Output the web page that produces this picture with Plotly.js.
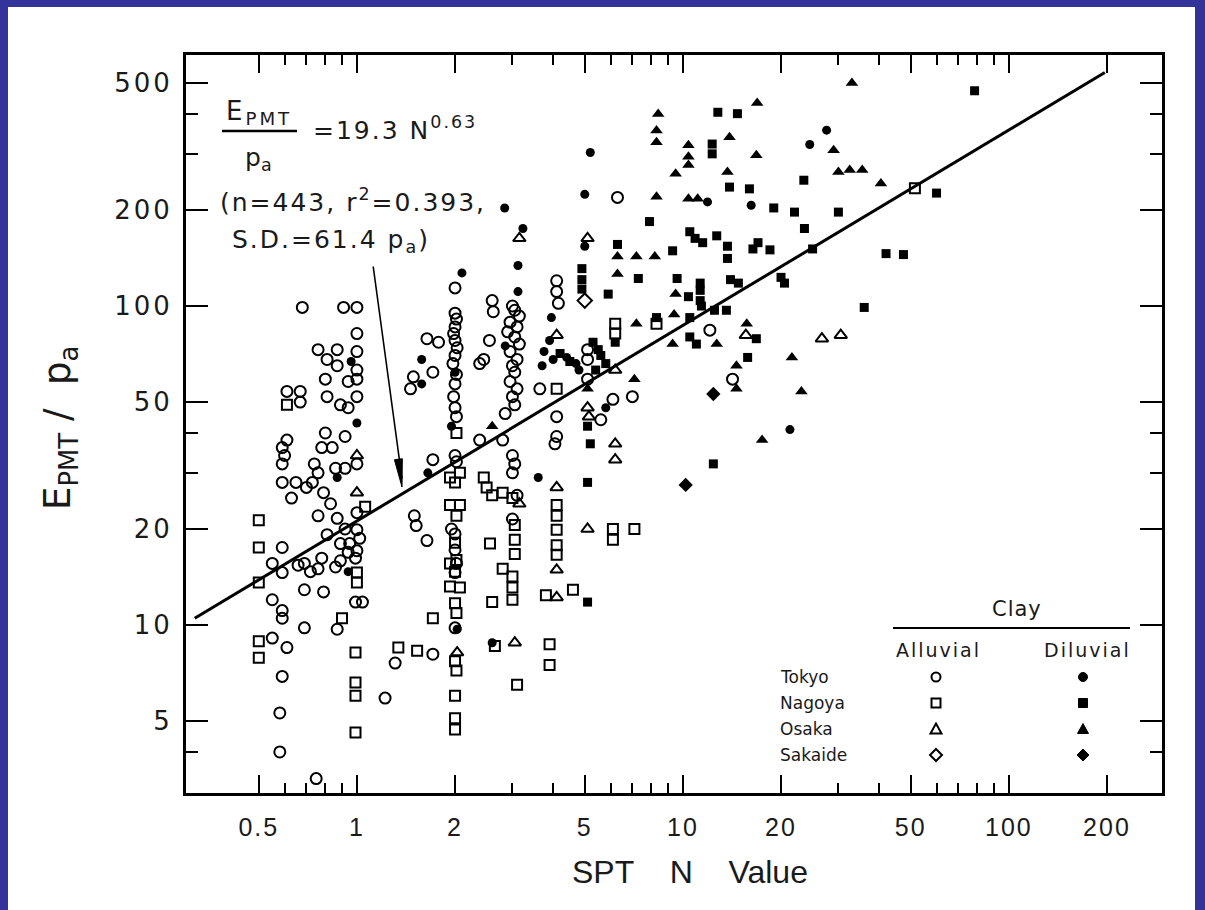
<!DOCTYPE html>
<html><head><meta charset="utf-8">
<script src="https://cdn.plot.ly/plotly-3.0.1.min.js"></script>
<style>
html,body{margin:0;padding:0;background:#fff;}
#chart{position:absolute;left:0;top:0;width:1205px;height:910px;}
#frame{position:absolute;left:0;top:0;width:1205px;height:910px;box-sizing:border-box;border-style:solid;border-color:#343399;border-width:7px 10px 0px 8px;pointer-events:none;}
/* the lettering of the original figure is wide: open the spacing a little */
.annotation[data-index="0"] .annotation-text{letter-spacing:3px;}
.annotation[data-index="2"] .annotation-text,
.annotation[data-index="3"] .annotation-text,
.annotation[data-index="4"] .annotation-text,
.annotation[data-index="9"] .annotation-text,
.annotation[data-index="10"] .annotation-text{letter-spacing:2px;}
.annotation[data-index="8"] .annotation-text{letter-spacing:1px;}
.ytick text{letter-spacing:3px;}
.xtick text{letter-spacing:2px;}
</style></head><body>
<div id="chart"></div><div id="frame"></div>
<script>
// ---- data (SPT N value, E_PMT/pa) ----
// Tokyo, alluvial clay (open circles)
const taN = [0.68,0.91,1.0,1.0,0.76,0.87,1.0,0.81,0.87,1.0,0.80,0.94,1.0,0.61,0.67,0.67,0.81,0.89,0.94,1.0,
  0.80,0.92,0.61,0.59,0.60,0.59,0.78,0.84,1.0,0.74,0.86,0.92,0.59,0.65,0.70,0.76,0.73,0.63,0.79,0.83,
  0.76,0.87,1.0,0.81,0.92,1.0,0.89,0.95,1.02,0.59,0.94,1.0,0.89,0.99,0.55,0.59,0.66,0.69,0.72,0.76,
  0.78,0.86,0.55,0.59,0.59,0.69,0.79,0.99,1.04,0.69,0.87,0.55,0.61,0.59,1.22,0.58,0.58,0.75,
  1.64,1.78,1.49,1.46,1.71,2.38,1.71,2.38,1.50,1.52,1.64,1.31,1.71,
  2.0,2.0,2.02,2.0,1.98,2.0,2.03,2.0,1.97,2.02,2.0,1.98,2.0,2.02,2.0,2.02,1.95,2.0,2.0,2.02,2.0,2.0,
  2.6,2.62,2.55,2.45,
  3.0,3.05,3.15,2.95,3.1,2.9,3.05,3.15,2.95,3.1,3.0,3.05,2.95,3.1,3.0,3.05,2.85,2.8,3.0,3.05,3.0,3.1,3.0,
  4.1,4.1,4.15,3.64,4.1,4.1,4.05,
  5.1,5.1,5.1,5.6,6.1,6.3,7.0,12.1,14.2];
const taE = [99,99,99,82,73,73,72,68,65,63,59,58,59,54,54,50,52,49,48,52,
  40,39,38,36,34,32,36,36,32,32,31,31,28,28,27,30,28,25,26,24,
  22,21.6,22.5,19.2,20,19.9,18,18,18.7,17.5,16.9,17.1,15.9,16.2,15.6,14.6,15.4,15.6,14.7,15,
  16.2,15.2,12,11.1,10.5,12.9,12.7,11.8,11.8,9.8,9.7,9.1,8.5,6.9,5.9,5.3,4.0,3.3,
  79,77,60,55,62,66,33,38,22,20.5,18.4,7.6,8.1,
  114,95,91,86,82,78,74,70,66,61,57,52,48,45,34,32.5,20,19.3,17.2,15.6,14.6,9.8,
  104,96,78,68,
  100,97,93,89,86,83,80,76,72,68,65,62,58,55,52,49,46,38,34,32,30,25.5,21.5,
  120,111,102,55,45,39,37,
  73,68,59,44,51,219,52,84,59];
// Tokyo, diluvial clay (filled circles)
const tdN = [0.96,1.0,0.87,0.94,1.58,1.58,1.65,2.0,1.95,2.03,2.1,2.84,3.23,3.12,3.12,2.85,3.6,2.6,3.95,3.9,3.7,
  5.2,5.0,5.0,5.8,11.9,16.2,27.6,24.5,21.3,4.4,4.7,4.8,3.75,4.0];
const tdE = [67,43,29,14.7,68,57,30,62,42,9.7,127,203,175,134,111,75,29,8.8,92,78,65,
  303,224,154,48,212,207,356,321,41,69,66,63,72,68];
// Nagoya, alluvial clay (open squares)
const naN = [0.61,1.06,0.5,0.5,0.5,0.5,0.5,1.0,1.0,0.9,0.99,0.99,0.99,0.99,1.71,1.34,1.53,
  1.93,2.07,2.0,2.02,1.93,2.07,2.02,2.0,2.02,1.93,2.0,1.93,2.07,2.0,2.02,2.0,2.02,2.0,2.0,2.0,
  2.56,2.6,2.65,2.45,2.5,2.6,2.8,3.05,3.05,3.05,2.8,3.0,3.0,3.0,3.1,3.0,
  4.1,4.1,4.1,4.1,4.1,4.1,3.9,3.9,3.8,4.6,
  6.2,6.2,6.1,6.1,7.1,8.3,51.5];
const naE = [49,23.5,21.3,17.5,13.6,8.9,7.9,14.6,13.6,10.5,8.2,6.6,6.0,4.6,10.5,8.5,8.3,
  29,30,28,40,23.8,23.8,22,18.1,16,15.6,14.7,13.2,13.1,11.7,10.9,7.7,7.2,6.0,5.1,4.7,
  18,11.8,8.6,29,27,25.5,26,20.6,18.5,16.7,15,14.2,13.1,12.0,6.5,25,
  55,23.8,22,19.9,17.8,16.6,8.7,7.5,12.4,12.9,
  88,82,20,18.5,20,88,234];
// Nagoya, diluvial clay (filled squares)
const ndN = [5.2,5.1,5.1,5.1,5.3,5.5,6.2,8.3,10.5,11.4,12.5,13.6,10.5,11.0,16.8,15.8,12.4,12.8,14.7,78.5,
  12.3,12.3,13.9,16.0,7.9,10.5,10.9,11.5,12.7,13.7,13.7,16.4,6.3,9.3,4.9,4.9,4.9,7.3,5.9,9.6,
  10.4,11.3,11.3,11.3,14.0,14.8,20.0,20.5,17.0,18.5,25.0,23.5,19.0,22.0,30.0,42.0,47.5,36.0,60.0,23.6,
  5.4,4.2,4.5,5.6,5.8];
const ndE = [37,28,11.8,42,77,73,77,92,92,100,97,97,80,76,79,69,32,405,401,473,
  322,300,236,233,184,171,163,158,166,154,141,151,156,149,131,121,113,122,109,122,
  107,118,112,104,121,118,123,118,158,150,151,248,203,197,197,146,145,99,226,175,
  63,71,67,70,66];
// Osaka, alluvial clay (open triangles)
const oaN = [1.0,1.0,2.03,3.05,3.15,4.1,4.1,4.1,5.1,5.1,5.15,5.1,6.2,6.2,6.2,4.1,15.6,26.7,30.5,3.15];
const oaE = [34,26,8.2,8.8,163,27,12.2,14.9,163,48,45,20,63,37,33,81,81,79,81,24];
// Osaka, diluvial clay (filled triangles)
const odN = [33,8.4,8.3,8.3,16.9,13.9,10.4,10.4,10.4,9.5,13.7,16.8,8.3,10.4,11.1,6.3,7.2,8.2,6.3,9.5,
  7.2,9.4,9.3,12.7,15.7,14.6,14.6,21.6,23.1,17.5,7.1,5.1,2.6,29,30,32.5,35.5,40.5];
const odE = [500,400,355,326,433,338,319,294,277,260,263,297,220,217,217,143,143,143,126,109,
  88,94,76,76,88,65,55,69,54,38,59,55,42,308,263,267,267,242];
// Sakaide, alluvial clay (open diamonds)
const saN = [5.0];
const saE = [104];
// Sakaide, diluvial clay (filled diamonds)
const sdN = [12.4,10.2];
const sdE = [53,27.5];
// fitted line E/pa = 19.3 N^0.63 (end points)
const fitN = [0.318,197];
const fitE = [10.5,540];
// axis ticks
const xTicks = [0.5,1,2,5,10,20,50,100,200];
const xTickText = ['0.5','1','2','5','10','20','50','100','200'];
const xMinor = [0.6,0.7,0.8,0.9,3,4,6,7,8,9,30,40,60,70,80,90];
const yTicks = [5,10,20,50,100,200,500];
const yTickText = ['5','10','20','50','100','200','500'];
const yMinor = [4,30,40,300,400];
const cities = ['Tokyo','Nagoya','Osaka','Sakaide'];
const legendSymbols = ['circle','square','triangle','diamond'];

// ---- layout geometry (pixels) ----
const W = 1205, H = 910, L = 186, R = 1162, T = 55, B = 793;
const px = x => (x - L) / (R - L);
const py = y => (B - y) / (B - T);

function pts(x, y, sym, size, lw) {
  return {x: x, y: y, type: 'scatter', mode: 'markers', hoverinfo: 'skip',
    marker: {symbol: sym, size: size, color: '#000', line: {color: '#000', width: lw}}};
}
const traces = [
  {x: fitN, y: fitE, type: 'scatter', mode: 'lines', line: {color: '#000', width: 3}, hoverinfo: 'skip'},
  pts(taN, taE, 'circle-open', 11, 2),
  pts(tdN, tdE, 'circle', 9, 0),
  pts(naN, naE, 'square-open', 10, 2),
  pts(ndN, ndE, 'square', 9, 0),
  pts(oaN, oaE, 'triangle-up-open', 11, 2),
  pts(odN, odE, 'triangle-up', 11, 0),
  pts(saN, saE, 'diamond-open', 11, 2),
  pts(sdN, sdE, 'diamond', 11, 0)
];

const txt = (x, y, text, size, anchor, extra) => Object.assign({
  xref: 'paper', yref: 'paper', x: px(x), y: py(y), text: text, showarrow: false,
  xanchor: anchor || 'center', yanchor: 'middle',
  font: {family: 'DejaVu Sans, sans-serif', size: size, color: '#1a1a1a'}}, extra || {});

// pointer arrow: tail and tip (pixels)
const tail = [373, 265], tip = [402, 487];

const ann = [
  txt(259, 113, 'E<sub>PMT</sub>', 26),
  txt(258, 159, 'p<sub>a</sub>', 25),
  txt(322, 128, '=19.3 N<sup>0.63</sup>', 25, 'left'),
  txt(235, 201, '(n=443, r<sup>2</sup>=0.393,', 25, 'left'),
  txt(243, 241, 'S.D.=61.4 p<sub>a</sub>)', 25, 'left'),
  {xref: 'paper', yref: 'paper', x: px(tip[0]), y: py(tip[1] - 8), text: '', showarrow: true,
   ax: tail[0] - tip[0], ay: tail[1] - tip[1] + 8, arrowhead: 0, arrowwidth: 1.6, arrowcolor: '#000', standoff: 0},
  txt(690, 872, 'SPT&nbsp;&nbsp;&nbsp;&nbsp;N&nbsp;&nbsp;&nbsp;&nbsp;Value', 32, 'center',
      {font: {family: 'Liberation Sans, sans-serif', size: 32, color: '#1a1a1a'}}),
  txt(60, 428, 'E<sub>PMT</sub>&nbsp;/&nbsp;&nbsp;p<sub>a</sub>', 37, 'center', {textangle: -90}),
  txt(1017, 609, 'Clay', 21),
  txt(938, 650, 'Alluvial', 19),
  txt(1087, 650, 'Diluvial', 19)
];
const rowY = [677, 703, 729, 755];
cities.forEach((c, i) => ann.push(txt(778, rowY[i], c, 17, 'left')));

// legend key symbols drawn as small shapes (paper coordinates)
function keyShape(kind, cx, cy, filled) {
  const fill = filled ? '#000' : 'rgba(0,0,0,0)';
  const line = {color: '#000', width: filled ? 1 : 2};
  const base = {xref: 'paper', yref: 'paper', fillcolor: fill, line: line};
  if (kind === 'circle') {
    const r = 4.5;
    return Object.assign(base, {type: 'circle', x0: px(cx - r), x1: px(cx + r), y0: py(cy + r), y1: py(cy - r)});
  }
  if (kind === 'square') {
    const r = 4.5;
    return Object.assign(base, {type: 'rect', x0: px(cx - r), x1: px(cx + r), y0: py(cy + r), y1: py(cy - r)});
  }
  if (kind === 'triangle') {
    const p = `M${px(cx - 5.5)},${py(cy + 4.5)} L${px(cx + 5.5)},${py(cy + 4.5)} L${px(cx)},${py(cy - 5.5)} Z`;
    return Object.assign(base, {type: 'path', path: p});
  }
  const p = `M${px(cx)},${py(cy - 6)} L${px(cx + 6)},${py(cy)} L${px(cx)},${py(cy + 6)} L${px(cx - 6)},${py(cy)} Z`;
  return Object.assign(base, {type: 'path', path: p});
}

// long, narrow arrow head like the original drawing
function arrowHead(t0, t1, len, half) {
  const dx = t1[0] - t0[0], dy = t1[1] - t0[1], d = Math.hypot(dx, dy);
  const ux = dx / d, uy = dy / d;
  const bx = t1[0] - ux * len, by = t1[1] - uy * len;
  const p1 = [bx + uy * half, by - ux * half], p2 = [bx - uy * half, by + ux * half];
  return {type: 'path', xref: 'paper', yref: 'paper', fillcolor: '#000', line: {color: '#000', width: 1},
    path: `M${px(t1[0])},${py(t1[1])} L${px(p1[0])},${py(p1[1])} L${px(p2[0])},${py(p2[1])} Z`};
}

const shapes = [
  {type: 'line', xref: 'paper', yref: 'paper', x0: px(222), x1: px(297), y0: py(131), y1: py(131), line: {color: '#000', width: 2.5}},
  {type: 'line', xref: 'paper', yref: 'paper', x0: px(893), x1: px(1130), y0: py(628), y1: py(628), line: {color: '#000', width: 2}},
  arrowHead(tail, tip, 28, 4)
];
legendSymbols.forEach((s, i) => {
  shapes.push(keyShape(s, 936, rowY[i], false));
  shapes.push(keyShape(s, 1083, rowY[i], true));
});

const axBase = {type: 'log', showgrid: false, zeroline: false, showline: true, linecolor: '#000', linewidth: 3,
  mirror: 'ticks', ticks: 'inside', tickcolor: '#000', tickwidth: 2, tickmode: 'array'};

const layout = {
  width: W, height: H,
  margin: {l: L, r: W - R, t: T, b: H - B, pad: 0},
  paper_bgcolor: '#fff', plot_bgcolor: '#fff', showlegend: false,
  xaxis: Object.assign({}, axBase, {
    range: [Math.log10(0.299), Math.log10(295)], tickvals: xTicks, ticktext: xTickText, ticklen: 18,
    ticklabelstandoff: 10,
    tickfont: {family: 'Liberation Sans, sans-serif', size: 25, color: '#1a1a1a'},
    minor: {tickmode: 'array', tickvals: xMinor, ticks: 'inside', ticklen: 10, tickwidth: 2, tickcolor: '#000', showgrid: false}
  }),
  yaxis: Object.assign({}, axBase, {
    range: [0.4734, 2.787], tickvals: yTicks, ticktext: yTickText, ticklen: 22,
    ticklabelstandoff: 5,
    tickfont: {family: 'DejaVu Sans, sans-serif', size: 26, color: '#1a1a1a'},
    minor: {tickmode: 'array', tickvals: yMinor, ticks: 'inside', ticklen: 12, tickwidth: 2, tickcolor: '#000', showgrid: false}
  }),
  annotations: ann,
  shapes: shapes
};

Plotly.newPlot('chart', traces, layout, {staticPlot: true, displayModeBar: false});
</script></body></html>
